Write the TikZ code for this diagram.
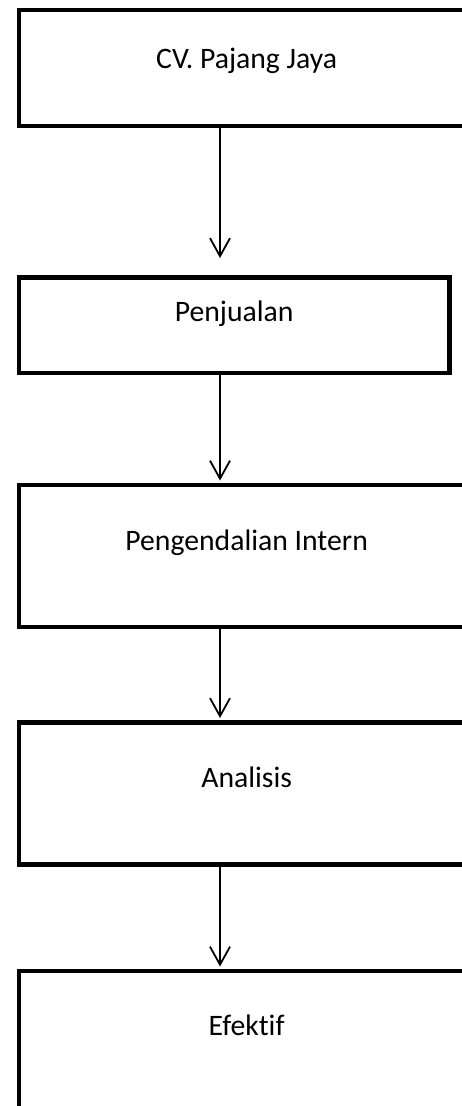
\documentclass[tikz,border=0pt]{standalone}
\usepackage{fontspec}
\setmainfont{Carlito}[Ligatures=NoCommon]
\usetikzlibrary{positioning}
\usetikzlibrary{arrows.meta}

\begin{document}
\begin{tikzpicture}[x=1pt, y=1pt,
    kotak/.style={draw, line width=4.8pt, rectangle, inner sep=0pt, anchor=north west, font=\fontsize{29.7}{36}\selectfont},
    panah/.style={line width=1.8pt, shorten >=2pt, -{Straight Barb[length=18pt, width=20pt]}}]
  \useasboundingbox (0,0) rectangle (462,-1106);
  \coordinate (kolom) at (220,0);

  \node[kotak, minimum width=455.5pt, text height=59pt, text depth=57pt] (cv) at (16.5,-7.5) {CV. Pajang Jaya};
  \node[kotak, minimum width=430.5pt, text height=44pt, text depth=51.5pt] (jual) at (16.5,-275) {Penjualan};
  \node[kotak, minimum width=455.5pt, text height=65.5pt, text depth=76.5pt] (spi) at (16.5,-482.5) {Pengendalian Intern};
  \node[kotak, minimum width=455.5pt, text height=65pt, text depth=77pt] (analisis) at (16.5,-720) {Analisis};
  \node[kotak, minimum width=455.5pt, text height=64.5pt, text depth=167pt] (efektif) at (16.5,-968.5) {Efektif};

  \draw[panah, shorten >=17pt] (cv.south -| kolom) -- (jual.north -| kolom);
  \draw[panah] (jual.south -| kolom) -- (spi.north -| kolom);
  \draw[panah] (spi.south -| kolom) -- (analisis.north -| kolom);
  \draw[panah] (analisis.south -| kolom) -- (efektif.north -| kolom);
\end{tikzpicture}
\end{document}
